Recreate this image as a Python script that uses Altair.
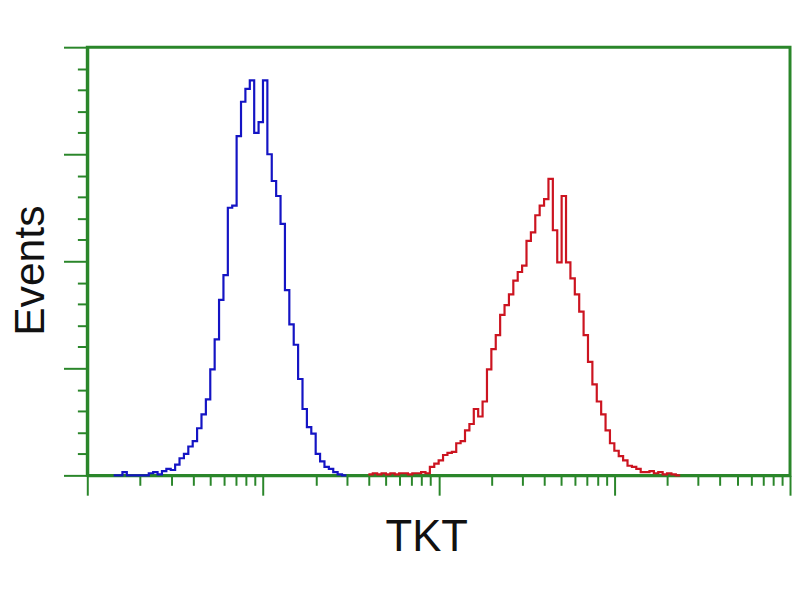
import altair as alt
import pandas as pd

# ---- data (log10 channel of bin start, events scaled 0-4) ----
blue_log = [0.150, 0.175, 0.200, 0.225, 0.250, 0.275, 0.300, 0.325, 0.350, 0.375,
            0.400, 0.425, 0.450, 0.475, 0.500, 0.525, 0.550, 0.575, 0.600, 0.625,
            0.650, 0.675, 0.700, 0.725, 0.750, 0.775, 0.800, 0.825, 0.850, 0.875,
            0.900, 0.925, 0.950, 0.975, 1.000, 1.025, 1.050, 1.075, 1.100, 1.125,
            1.150, 1.175, 1.200, 1.225, 1.250, 1.275, 1.300, 1.325, 1.350, 1.375,
            1.400, 1.425, 1.450, 1.475]
blue_counts = [0.00, 0.00, 0.03, 0.00, 0.00, 0.00, 0.00, 0.00, 0.02, 0.03,
               0.01, 0.04, 0.06, 0.05, 0.10, 0.16, 0.20, 0.27, 0.32, 0.44,
               0.57, 0.71, 0.99, 1.27, 1.64, 1.87, 2.50, 2.52, 3.17, 3.49,
               3.61, 3.69, 3.20, 3.30, 3.69, 3.00, 2.75, 2.61, 2.35, 1.73,
               1.41, 1.22, 0.90, 0.62, 0.45, 0.39, 0.20, 0.13, 0.08, 0.06,
               0.03, 0.01, 0.00, 0.00]

red_log = [1.600, 1.625, 1.650, 1.675, 1.700, 1.725, 1.750, 1.775, 1.800, 1.825,
           1.850, 1.875, 1.900, 1.925, 1.950, 1.975, 2.000, 2.025, 2.050, 2.075,
           2.100, 2.125, 2.150, 2.175, 2.200, 2.225, 2.250, 2.275, 2.300, 2.325,
           2.350, 2.375, 2.400, 2.425, 2.450, 2.475, 2.500, 2.525, 2.550, 2.575,
           2.600, 2.625, 2.650, 2.675, 2.700, 2.725, 2.750, 2.775, 2.800, 2.825,
           2.850, 2.875, 2.900, 2.925, 2.950, 2.975, 3.000, 3.025, 3.050, 3.075,
           3.100, 3.125, 3.150, 3.175, 3.200, 3.225, 3.250, 3.275, 3.300, 3.325,
           3.350, 3.375]
red_counts = [0.01, 0.02, 0.01, 0.02, 0.01, 0.02, 0.01, 0.02, 0.02, 0.01,
              0.02, 0.02, 0.03, 0.02, 0.08, 0.11, 0.14, 0.19, 0.21, 0.22,
              0.30, 0.32, 0.42, 0.48, 0.62, 0.55, 0.69, 0.99, 1.18, 1.31,
              1.50, 1.59, 1.69, 1.82, 1.90, 1.96, 2.19, 2.27, 2.43, 2.52,
              2.58, 2.77, 2.29, 1.99, 2.61, 1.99, 1.84, 1.69, 1.53, 1.31,
              1.06, 0.85, 0.69, 0.57, 0.42, 0.30, 0.23, 0.18, 0.14, 0.09,
              0.08, 0.06, 0.03, 0.03, 0.04, 0.02, 0.03, 0.01, 0.02, 0.01,
              0.00, 0.00]

x_ticks = [1, 2, 3, 4, 5, 6, 7, 8, 9,
           10, 20, 30, 40, 50, 60, 70, 80, 90,
           100, 200, 300, 400, 500, 600, 700, 800, 900,
           1000, 2000, 3000, 4000, 5000, 6000, 7000, 8000, 9000, 10000]
y_ticks = [0, 0.2, 0.4, 0.6, 0.8, 1, 1.2, 1.4, 1.6, 1.8, 2, 2.2, 2.4, 2.6, 2.8,
           3, 3.2, 3.4, 3.6, 3.8, 4]

rows = []
for lg, c in zip(blue_log, blue_counts):
    rows.append({"series": "blue", "x": 10 ** lg, "y": c})
for lg, c in zip(red_log, red_counts):
    rows.append({"series": "red", "x": 10 ** lg, "y": c})
df = pd.DataFrame(rows)

GREEN = "#2a862a"

chart = alt.Chart(df).mark_line(interpolate="step-after", strokeWidth=2.2).encode(
    x=alt.X("x:Q",
            scale=alt.Scale(type="log", domain=[1, 10000], nice=False),
            axis=alt.Axis(values=x_ticks, labels=False, grid=False, title="TKT",
                          tickColor=GREEN, tickWidth=2,
                          tickSize={"condition": {"test": "abs(log(datum.value)/LN10 - round(log(datum.value)/LN10)) < 0.001", "value": 20}, "value": 10},
                          domainColor=GREEN, domainWidth=3,
                          titleFont="Liberation Sans", titleFontSize=44,
                          titleFontWeight="normal", titleColor="#111111",
                          titleX=342, titleY=76, titleBaseline="alphabetic",
                          titleAlign="center")),
    y=alt.Y("y:Q",
            scale=alt.Scale(domain=[0, 4], nice=False, zero=True),
            axis=alt.Axis(values=y_ticks, labels=False, grid=False, title="Events",
                          tickColor=GREEN, tickWidth=2,
                          tickSize={"condition": {"test": "abs(datum.value - round(datum.value)) < 0.001", "value": 24}, "value": 10},
                          domainColor=GREEN, domainWidth=3,
                          titleFont="Liberation Sans", titleFontSize=43,
                          titleFontWeight="normal", titleColor="#111111",
                          titleAngle=270, titleX=-44, titleY=225,
                          titleBaseline="alphabetic", titleAlign="center")),
    color=alt.Color("series:N",
                    scale=alt.Scale(domain=["blue", "red"], range=["#1414c4", "#cc1420"]),
                    legend=None),
).properties(
    width=709, height=432,
    background="white",
    autosize=alt.AutoSizeParams(type="none"),
    padding={"left": 80, "top": 37, "right": 2, "bottom": 100},
).configure_view(
    stroke=GREEN, strokeWidth=3
)

chart.save("out.html", embed_options={"renderer": "svg", "actions": False})
